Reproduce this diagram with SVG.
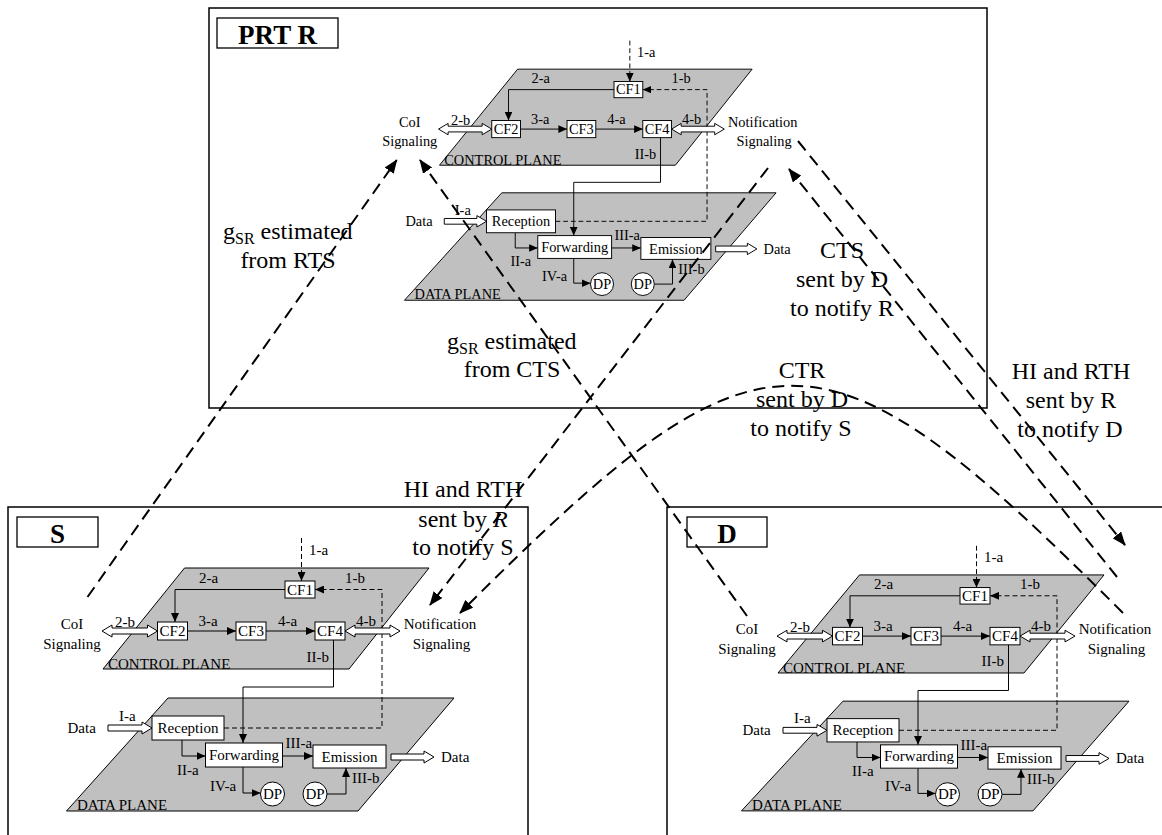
<svg xmlns="http://www.w3.org/2000/svg" width="1162" height="835" viewBox="0 0 1162 835">
<defs>
<style>
text { font-family: "Liberation Serif", "Times New Roman", serif; fill:#000; }
.t { font-size:15px; }
.c { text-anchor:middle; }
.big { font-size:24px; }
.lbl { font-size:27px; font-weight:bold; text-anchor:middle; }
.frame { fill:none; stroke:#000; stroke-width:1.5; }
.lblbox { fill:#fff; stroke:#000; stroke-width:1.3; }
.plane { fill:#c0c0c0; stroke:#000; stroke-width:1; }
.box { fill:#fff; stroke:#000; stroke-width:1; }
.ln { fill:none; stroke:#000; stroke-width:1; marker-end:url(#ah); }
.dl { fill:none; stroke:#000; stroke-width:1; stroke-dasharray:5 3; marker-end:url(#ah); }
.hol { fill:#fff; stroke:#000; stroke-width:1; }
.conn { fill:none; stroke:#000; stroke-width:2; stroke-dasharray:12 7; }
.arr { marker-end:url(#bah); }
</style>
<marker id="ah" markerUnits="userSpaceOnUse" markerWidth="9" markerHeight="8" refX="9" refY="4" orient="auto"><path d="M0,0 L9,4 L0,8 z" fill="#000"/></marker>
<marker id="bah" markerUnits="userSpaceOnUse" markerWidth="14" markerHeight="11" refX="13" refY="5.5" orient="auto"><path d="M0,0 L14,5.5 L0,11 z" fill="#000"/></marker>
</defs>

<!-- Node S -->
<g id="node-S">
<rect class="frame" x="8" y="507" width="520" height="340"/>
<rect class="lblbox" x="17" y="517" width="81" height="30"/>
<text class="lbl" x="57.5" y="543">S</text>
<g id="S-planes">
<polygon class="plane" points="184.5,568 429,568 349,669 103,669"/>
<polygon class="plane" points="168,698 454,698 358,811 66.5,811"/>
<text class="t" x="108" y="669">CONTROL PLANE</text>
<text class="t" x="77" y="810">DATA PLANE</text>
<path class="dl" d="M301.5,538 V581"/>
<path class="ln" d="M285,589.5 H175 V622"/>
<path class="dl" d="M224,728 H382 V589.5 H315"/>
<path class="ln" d="M187.5,631 H236"/>
<path class="ln" d="M266,631 H315"/>
<path class="ln" d="M333.5,640 V687 H243 V743"/>
<path class="ln" d="M182,740 V756 H205.5"/>
<path class="ln" d="M282.5,756 H313"/>
<path class="ln" d="M243,767 V793 H260.5"/>
<path class="ln" d="M327,794 H346 V768"/>
<polygon class="hol" points="102,631 112,625 112,628 147.5,628 147.5,625 157.5,631 147.5,637 147.5,634 112,634 112,637"/>
<polygon class="hol" points="345,631 355,625 355,628 390,628 390,625 400,631 390,637 390,634 355,634 355,637"/>
<polygon class="hol" points="108,725 142,725 142,722 152,728 142,734 142,731 108,731"/>
<polygon class="hol" points="391,754 424,754 424,751 434,757 424,763 424,760 391,760"/>
<rect class="box" x="285" y="581" width="30" height="17"/><text class="t c" x="300" y="594.5">CF1</text>
<rect class="box" x="157.5" y="622" width="30" height="18"/><text class="t c" x="172.5" y="636">CF2</text>
<rect class="box" x="236" y="622" width="30" height="18"/><text class="t c" x="251" y="636">CF3</text>
<rect class="box" x="315" y="622" width="30" height="18"/><text class="t c" x="330" y="636">CF4</text>
<rect class="box" x="152" y="716" width="72" height="24"/><text class="t c" x="188" y="733">Reception</text>
<rect class="box" x="205.5" y="743" width="77" height="24"/><text class="t c" x="244" y="760">Forwarding</text>
<rect class="box" x="313" y="745" width="73" height="23"/><text class="t c" x="349.5" y="762">Emission</text>
<circle class="box" cx="272.5" cy="794" r="12"/><text class="t c" x="272.5" y="799">DP</text>
<circle class="box" cx="315" cy="794" r="12"/><text class="t c" x="315" y="799">DP</text>
<text class="t" x="309" y="555">1-a</text>
<text class="t" x="199" y="583">2-a</text>
<text class="t" x="345" y="583">1-b</text>
<text class="t" x="115" y="627">2-b</text>
<text class="t" x="198.5" y="626">3-a</text>
<text class="t" x="278" y="626">4-a</text>
<text class="t" x="356" y="626">4-b</text>
<text class="t" x="306.5" y="662">II-b</text>
<text class="t c" x="72" y="629">CoI</text>
<text class="t c" x="72" y="649">Signaling</text>
<text class="t c" x="440" y="629">Notification</text>
<text class="t c" x="441.5" y="649">Signaling</text>
<text class="t" x="67.5" y="733">Data</text>
<text class="t" x="119" y="721">I-a</text>
<text class="t" x="177" y="775">II-a</text>
<text class="t" x="285.5" y="748">III-a</text>
<text class="t" x="441" y="762">Data</text>
<text class="t" x="210" y="791">IV-a</text>
<text class="t" x="352" y="783">III-b</text>
</g>
</g>

<!-- Node D -->
<g id="node-D">
<rect class="frame" x="667" y="507" width="520" height="340"/>
<rect class="lblbox" x="687" y="517" width="80" height="30"/>
<text class="lbl" x="727" y="543">D</text>
<g id="D-planes" transform="matrix(1,0,0,0.971,675,23.4)">
<polygon class="plane" points="184.5,568 429,568 349,669 103,669"/>
<polygon class="plane" points="168,698 454,698 358,811 66.5,811"/>
<text class="t" x="108" y="669">CONTROL PLANE</text>
<text class="t" x="77" y="810">DATA PLANE</text>
<path class="dl" d="M301.5,538 V581"/>
<path class="ln" d="M285,589.5 H175 V622"/>
<path class="dl" d="M224,728 H382 V589.5 H315"/>
<path class="ln" d="M187.5,631 H236"/>
<path class="ln" d="M266,631 H315"/>
<path class="ln" d="M333.5,640 V687 H243 V743"/>
<path class="ln" d="M182,740 V756 H205.5"/>
<path class="ln" d="M282.5,756 H313"/>
<path class="ln" d="M243,767 V793 H260.5"/>
<path class="ln" d="M327,794 H346 V768"/>
<polygon class="hol" points="102,631 112,625 112,628 147.5,628 147.5,625 157.5,631 147.5,637 147.5,634 112,634 112,637"/>
<polygon class="hol" points="345,631 355,625 355,628 390,628 390,625 400,631 390,637 390,634 355,634 355,637"/>
<polygon class="hol" points="108,725 142,725 142,722 152,728 142,734 142,731 108,731"/>
<polygon class="hol" points="391,754 424,754 424,751 434,757 424,763 424,760 391,760"/>
<rect class="box" x="285" y="581" width="30" height="17"/><text class="t c" x="300" y="594.5">CF1</text>
<rect class="box" x="157.5" y="622" width="30" height="18"/><text class="t c" x="172.5" y="636">CF2</text>
<rect class="box" x="236" y="622" width="30" height="18"/><text class="t c" x="251" y="636">CF3</text>
<rect class="box" x="315" y="622" width="30" height="18"/><text class="t c" x="330" y="636">CF4</text>
<rect class="box" x="152" y="716" width="72" height="24"/><text class="t c" x="188" y="733">Reception</text>
<rect class="box" x="205.5" y="743" width="77" height="24"/><text class="t c" x="244" y="760">Forwarding</text>
<rect class="box" x="313" y="745" width="73" height="23"/><text class="t c" x="349.5" y="762">Emission</text>
<circle class="box" cx="272.5" cy="794" r="12"/><text class="t c" x="272.5" y="799">DP</text>
<circle class="box" cx="315" cy="794" r="12"/><text class="t c" x="315" y="799">DP</text>
<text class="t" x="309" y="555">1-a</text>
<text class="t" x="199" y="583">2-a</text>
<text class="t" x="345" y="583">1-b</text>
<text class="t" x="115" y="627">2-b</text>
<text class="t" x="198.5" y="626">3-a</text>
<text class="t" x="278" y="626">4-a</text>
<text class="t" x="356" y="626">4-b</text>
<text class="t" x="306.5" y="662">II-b</text>
<text class="t c" x="72" y="629">CoI</text>
<text class="t c" x="72" y="649">Signaling</text>
<text class="t c" x="440" y="629">Notification</text>
<text class="t c" x="441.5" y="649">Signaling</text>
<text class="t" x="67.5" y="733">Data</text>
<text class="t" x="119" y="721">I-a</text>
<text class="t" x="177" y="775">II-a</text>
<text class="t" x="285.5" y="748">III-a</text>
<text class="t" x="441" y="762">Data</text>
<text class="t" x="210" y="791">IV-a</text>
<text class="t" x="352" y="783">III-b</text>
</g>
</g>

<!-- Node PRT R -->
<g id="node-R">
<rect class="frame" x="209" y="8" width="778" height="400"/>
<rect class="lblbox" x="217" y="18" width="121" height="30"/>
<text class="lbl" x="277.5" y="44">PRT R</text>
<g id="R-planes" transform="matrix(0.959,0,0,0.951,340.7,-471)">
<polygon class="plane" points="184.5,568 429,568 349,669 103,669"/>
<polygon class="plane" points="168,698 454,698 358,811 66.5,811"/>
<text class="t" x="108" y="669">CONTROL PLANE</text>
<text class="t" x="77" y="810">DATA PLANE</text>
<path class="dl" d="M301.5,538 V581"/>
<path class="ln" d="M285,589.5 H175 V622"/>
<path class="dl" d="M224,728 H382 V589.5 H315"/>
<path class="ln" d="M187.5,631 H236"/>
<path class="ln" d="M266,631 H315"/>
<path class="ln" d="M333.5,640 V687 H243 V743"/>
<path class="ln" d="M182,740 V756 H205.5"/>
<path class="ln" d="M282.5,756 H313"/>
<path class="ln" d="M243,767 V793 H260.5"/>
<path class="ln" d="M327,794 H346 V768"/>
<polygon class="hol" points="102,631 112,625 112,628 147.5,628 147.5,625 157.5,631 147.5,637 147.5,634 112,634 112,637"/>
<polygon class="hol" points="345,631 355,625 355,628 390,628 390,625 400,631 390,637 390,634 355,634 355,637"/>
<polygon class="hol" points="108,725 142,725 142,722 152,728 142,734 142,731 108,731"/>
<polygon class="hol" points="391,754 424,754 424,751 434,757 424,763 424,760 391,760"/>
<rect class="box" x="285" y="581" width="30" height="17"/><text class="t c" x="300" y="594.5">CF1</text>
<rect class="box" x="157.5" y="622" width="30" height="18"/><text class="t c" x="172.5" y="636">CF2</text>
<rect class="box" x="236" y="622" width="30" height="18"/><text class="t c" x="251" y="636">CF3</text>
<rect class="box" x="315" y="622" width="30" height="18"/><text class="t c" x="330" y="636">CF4</text>
<rect class="box" x="152" y="716" width="72" height="24"/><text class="t c" x="188" y="733">Reception</text>
<rect class="box" x="205.5" y="743" width="77" height="24"/><text class="t c" x="244" y="760">Forwarding</text>
<rect class="box" x="313" y="745" width="73" height="23"/><text class="t c" x="349.5" y="762">Emission</text>
<circle class="box" cx="272.5" cy="794" r="12"/><text class="t c" x="272.5" y="799">DP</text>
<circle class="box" cx="315" cy="794" r="12"/><text class="t c" x="315" y="799">DP</text>
<text class="t" x="309" y="555">1-a</text>
<text class="t" x="199" y="583">2-a</text>
<text class="t" x="345" y="583">1-b</text>
<text class="t" x="115" y="627">2-b</text>
<text class="t" x="198.5" y="626">3-a</text>
<text class="t" x="278" y="626">4-a</text>
<text class="t" x="356" y="626">4-b</text>
<text class="t" x="306.5" y="662">II-b</text>
<text class="t c" x="72" y="629">CoI</text>
<text class="t c" x="72" y="649">Signaling</text>
<text class="t c" x="440" y="629">Notification</text>
<text class="t c" x="441.5" y="649">Signaling</text>
<text class="t" x="67.5" y="733">Data</text>
<text class="t" x="119" y="721">I-a</text>
<text class="t" x="177" y="775">II-a</text>
<text class="t" x="285.5" y="748">III-a</text>
<text class="t" x="441" y="762">Data</text>
<text class="t" x="210" y="791">IV-a</text>
<text class="t" x="352" y="783">III-b</text>
</g>
</g>

<!-- Connector labels -->
<g id="connector-labels">
<text class="big" x="223" y="239">g<tspan font-size="16" dy="5">SR</tspan><tspan dy="-5"> estimated</tspan></text>
<text class="big c" x="288" y="268">from RTS</text>
<text class="big" x="447" y="349">g<tspan font-size="16" dy="5">SR</tspan><tspan dy="-5"> estimated</tspan></text>
<text class="big c" x="512" y="377">from CTS</text>
<text class="big c" x="842" y="258">CTS</text>
<text class="big c" x="842" y="287">sent by D</text>
<text class="big c" x="842" y="316">to notify R</text>
<text class="big c" x="802" y="378">CTR</text>
<text class="big c" x="802" y="407">sent by D</text>
<text class="big c" x="801" y="436">to notify S</text>
<text class="big c" x="1071" y="379">HI and RTH</text>
<text class="big c" x="1071" y="408">sent by R</text>
<text class="big c" x="1070" y="437">to notify D</text>
<text class="big c" x="463" y="497">HI and RTH</text>
<text class="big c" x="463" y="527">sent by <tspan font-style="italic">R</tspan></text>
<text class="big c" x="463" y="555">to notify S</text>
</g>

<!-- Connectors -->
<g id="connectors">
<path class="conn arr" d="M87.5,597 L396.7,160"/>
<path class="conn arr" d="M747,616 L420,160"/>
<path class="conn arr" d="M768,168 L430,605"/>
<path class="conn arr" d="M1123,613 C820,310 763,310 460,613"/>
<path class="conn arr" d="M798,141 L1125,545"/>
<path class="conn arr" d="M1117,577 L789,169"/>
</g>
</svg>
